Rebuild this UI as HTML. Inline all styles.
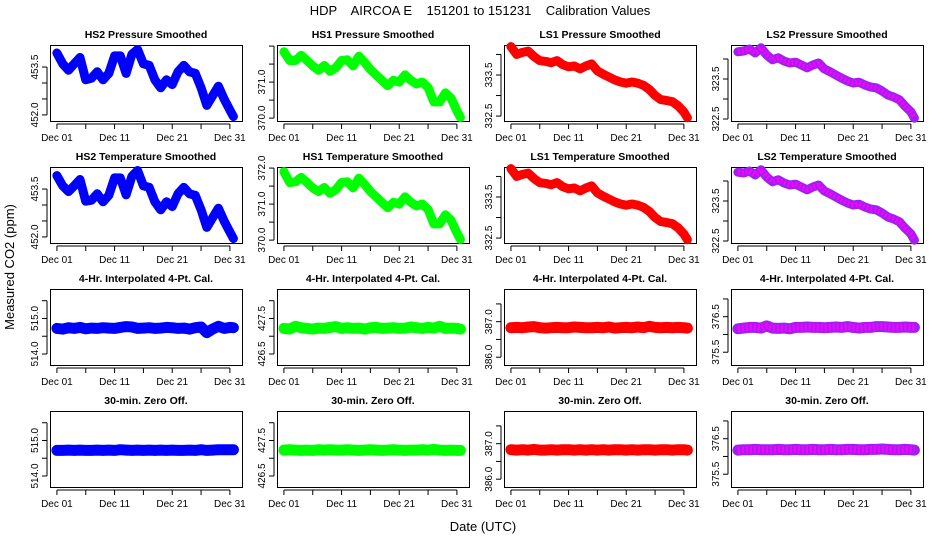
<!DOCTYPE html>
<html><head><meta charset="utf-8"><style>
html,body{margin:0;padding:0;background:#fff;}
svg{display:block;font-family:"Liberation Sans",sans-serif;}
</style></head><body>
<svg id="chart" width="936" height="540" viewBox="0 0 936 540" xmlns="http://www.w3.org/2000/svg">
<text x="480" y="15" font-size="13" text-anchor="middle" xml:space="preserve">HDP    AIRCOA E    151201 to 151231    Calibration Values</text>
<text transform="translate(14,267) rotate(-90)" font-size="13" text-anchor="middle">Measured CO2 (ppm)</text>
<text x="483" y="531" font-size="13" text-anchor="middle">Date (UTC)</text>
<g id="panels"></g>
</svg>
<script>
const days = [0,1,2,3,4,5,6,7,8,9,10,11,12,13,14,15,16,17,18,19,20,21,22,23,24,25,26,27,28,29,30,30.6];
const xTickDays = [0,5,10,15,20,25,30];
const xTickLabels = ["Dec 01","","Dec 11","","Dec 21","","Dec 31"];
const colNames = ["HS2","HS1","LS1","LS2"];
const colColors = ["#0000ff","#00ff00","#ff0000","#a020f0"];

const presHS2 = [453.94,453.6,453.4,453.6,453.8,453.1,453.15,453.35,453.1,453.3,453.85,453.85,453.3,453.9,454.05,453.6,453.55,453.1,452.85,453.1,452.95,453.35,453.55,453.35,453.3,452.85,452.3,452.6,452.9,452.5,452.15,451.95];
const presHS1 = [371.84,371.6,371.6,371.74,371.6,371.45,371.33,371.46,371.3,371.4,371.6,371.62,371.45,371.72,371.55,371.35,371.2,371.05,370.9,371.05,371.0,371.2,371.05,370.95,371.0,370.85,370.45,370.45,370.7,370.55,370.2,370.02];
const presLS1 = [334.19,334.0,334.05,334.08,333.95,333.85,333.83,333.8,333.85,333.75,333.7,333.72,333.65,333.72,333.77,333.6,333.52,333.45,333.38,333.33,333.3,333.33,333.3,333.25,333.15,333.0,332.9,332.88,332.85,332.75,332.6,332.46];
const presLS2 = [324.18,324.2,324.25,324.15,324.28,324.1,323.98,324.03,323.95,323.9,323.92,323.85,323.78,323.85,323.9,323.75,323.68,323.6,323.52,323.45,323.4,323.42,323.35,323.3,323.28,323.2,323.1,323.05,322.98,322.82,322.68,322.52];
const tempHS2 = [453.92,453.6,453.42,453.6,453.8,453.12,453.15,453.35,453.1,453.3,453.85,453.85,453.32,453.9,454.08,453.6,453.55,453.1,452.85,453.1,452.95,453.35,453.55,453.35,453.3,452.85,452.3,452.6,452.9,452.5,452.15,451.95];
const tempHS1 = [371.9,371.6,371.62,371.74,371.6,371.45,371.35,371.46,371.3,371.4,371.6,371.62,371.45,371.72,371.55,371.35,371.2,371.05,370.9,371.05,371.0,371.2,371.05,370.95,371.0,370.85,370.45,370.45,370.7,370.55,370.2,370.02];
const tempLS1 = [334.19,334.0,334.05,334.08,333.95,333.85,333.83,333.8,333.85,333.75,333.7,333.72,333.65,333.72,333.77,333.6,333.52,333.45,333.38,333.33,333.3,333.33,333.3,333.25,333.15,333.0,332.9,332.88,332.85,332.75,332.6,332.46];
const tempLS2 = [324.22,324.2,324.25,324.15,324.28,324.1,323.98,324.03,323.95,323.9,323.92,323.85,323.78,323.85,323.9,323.75,323.68,323.6,323.52,323.45,323.4,323.42,323.35,323.3,323.28,323.2,323.1,323.05,322.98,322.82,322.68,322.52];
const interpHS2 = [514.72,514.7,514.74,514.72,514.75,514.71,514.73,514.72,514.74,514.73,514.72,514.75,514.77,514.76,514.72,514.73,514.74,514.72,514.73,514.75,514.74,514.72,514.73,514.7,514.74,514.76,514.6,514.7,514.78,514.72,514.75,514.74];
const interpHS1 = [427.22,427.2,427.28,427.24,427.22,427.2,427.23,427.22,427.25,427.27,427.22,427.24,427.22,427.23,427.2,427.24,427.25,427.22,427.23,427.24,427.22,427.23,427.26,427.24,427.22,427.25,427.23,427.28,427.22,427.23,427.22,427.2];
const interpLS1 = [386.83,386.84,386.83,386.85,386.86,386.83,386.82,386.83,386.84,386.83,386.83,386.85,386.84,386.83,386.83,386.84,386.83,386.85,386.82,386.83,386.84,386.83,386.85,386.83,386.87,386.84,386.83,386.84,386.83,386.84,386.83,386.82];
const interpLS2 = [376.16,376.18,376.2,376.2,376.18,376.24,376.18,376.17,376.18,376.16,376.2,376.2,376.21,376.2,376.2,376.19,376.2,376.21,376.2,376.22,376.2,376.18,376.2,376.2,376.22,376.22,376.21,376.2,376.2,376.21,376.2,376.2];
const zeroHS2 = [514.72,514.72,514.73,514.72,514.73,514.72,514.72,514.73,514.72,514.73,514.72,514.74,514.73,514.72,514.73,514.72,514.73,514.72,514.73,514.72,514.73,514.72,514.72,514.73,514.72,514.74,514.72,514.73,514.74,514.74,514.74,514.74];
const zeroHS1 = [427.23,427.24,427.23,427.22,427.23,427.22,427.24,427.23,427.24,427.23,427.23,427.24,427.23,427.22,427.23,427.24,427.23,427.22,427.23,427.24,427.23,427.22,427.23,427.23,427.24,427.23,427.25,427.23,427.22,427.23,427.22,427.22];
const zeroLS1 = [386.83,386.82,386.83,386.82,386.84,386.82,386.82,386.83,386.82,386.83,386.83,386.82,386.83,386.82,386.83,386.82,386.83,386.82,386.83,386.83,386.82,386.83,386.82,386.83,386.83,386.82,386.83,386.83,386.82,386.83,386.83,386.82];
const zeroLS2 = [376.18,376.19,376.19,376.2,376.19,376.19,376.19,376.2,376.19,376.19,376.2,376.19,376.19,376.2,376.19,376.19,376.2,376.19,376.19,376.2,376.2,376.19,376.19,376.2,376.2,376.21,376.2,376.19,376.19,376.2,376.19,376.18];

const rowTitles = ["Pressure Smoothed","Temperature Smoothed","4-Hr. Interpolated 4-Pt. Cal.","30-min. Zero Off."];
const series = [[presHS2,presHS1,presLS1,presLS2],[tempHS2,tempHS1,tempLS1,tempLS2],[interpHS2,interpHS1,interpLS1,interpLS2],[zeroHS2,zeroHS1,zeroLS1,zeroLS2]];
const domSmooth = [[451.81,454.19],[369.92,372.03],[332.38,334.23],[322.45,324.35]];
const domCal = [[513.69,515.83],[426.19,428.33],[385.78,387.92],[375.14,377.28]];
const ticksSmooth = [[452,452.5,453,453.5],[370,370.5,371,371.5,372],[332.5,333,333.5,334],[322.5,323,323.5,324]];
const ticksCal = [[514,514.5,515,515.5],[426.5,427,427.5,428],[386,386.5,387,387.5],[375.5,376,376.5,377]];
const labelsSmooth = [["452.0","453.5"],["370.0","371.0"],["332.5","333.5"],["322.5","323.5"]];
const labelsTemp = [["452.0","453.5"],["370.0","371.0","372.0"],["332.5","333.5"],["322.5","323.5"]];
const labelsCal = [["514.0","515.0"],["426.5","427.5"],["386.0","387.0"],["375.5","376.5"]];

const NS="http://www.w3.org/2000/svg";
const root=document.getElementById('panels');
function mk(tag,attrs,parent){const e=document.createElementNS(NS,tag);for(const k in attrs)e.setAttribute(k,attrs[k]);parent.appendChild(e);return e;}
const colX=[50,277,504,731], rowY=[45,167,289,411], W=192, H=76;

for(let r=0;r<4;r++){for(let c=0;c<4;c++){
  const x0=colX[c], y0=rowY[r];
  const dom = r<2?domSmooth[c]:domCal[c];
  const ticks = r<2?ticksSmooth[c]:ticksCal[c];
  const labels = r===0?labelsSmooth[c]:(r===1?labelsTemp[c]:labelsCal[c]);
  const xs=d=>x0+(d+1.2)/33.3*W;
  const ys=v=>y0+H-(v-dom[0])/(dom[1]-dom[0])*H;
  const g=mk('g',{},root);
  
  
  const t=mk('text',{x:x0+W/2,y:y0-7,'font-size':'10.5','font-weight':'bold','text-anchor':'middle'},g);
  t.textContent=(r<2?colNames[c]+' ':'')+rowTitles[r];
  
  
  const b=mk('rect',{x:x0+0.5,y:y0+0.5,width:W,height:H,fill:'none',stroke:'#000','stroke-width':1},g);
  
  
  const vals=series[r][c];
  const col=colColors[c];
  const bw = r<2?9:11;
  let pts=days.map((d,i)=>{const v=Math.max(dom[0],Math.min(dom[1],vals[i]));return xs(d).toFixed(1)+','+ys(v).toFixed(1);}).join(' ');
  const band=mk('polyline',{points:pts,fill:'none',stroke:col,'stroke-width':bw,'stroke-linejoin':'round','stroke-linecap':'round'},g);
  
  
  days.forEach((d,i)=>{
    const v=Math.max(dom[0],Math.min(dom[1],vals[i]));
    const p=mk('circle',{cx:xs(d),cy:ys(v),r:3.5,fill:'none',stroke:col,'stroke-width':1.5},g);
    
    
  });
  if(c===3){const ov=mk('polyline',{points:pts,fill:'none',stroke:'#ff00ff','stroke-width':bw-4,'stroke-dasharray':'2 2','stroke-linejoin':'round'},g);
    
    }
  const ay=y0+H+3;
  const xa=mk('line',{x1:xs(0),x2:xs(30),y1:ay,y2:ay,stroke:'#000'},g);
  
  
  xTickDays.forEach((d,i)=>{
    const tk=mk('line',{x1:xs(d),x2:xs(d),y1:ay,y2:ay+5,stroke:'#000'},g);
    
    
    if(xTickLabels[i]){const tl=mk('text',{x:xs(d),y:ay+17,'font-size':'10','text-anchor':'middle'},g);tl.textContent=xTickLabels[i];
      
      }
  });
  const ax=x0-3;
  const ya=mk('line',{x1:ax,x2:ax,y1:ys(ticks[0]),y2:ys(ticks[ticks.length-1]),stroke:'#000'},g);
  
  
  ticks.forEach(v=>{
    const tk=mk('line',{x1:ax,x2:ax-5,y1:ys(v),y2:ys(v),stroke:'#000'},g);
    
    
  });
  labels.forEach(s=>{
    const v=parseFloat(s);
    const tl=mk('text',{transform:'translate('+(x0-12)+','+ys(v)+') rotate(-90)','font-size':'10','text-anchor':'middle'},g);
    tl.textContent=s;
    
    
  });
}}
</script>
</body></html>
